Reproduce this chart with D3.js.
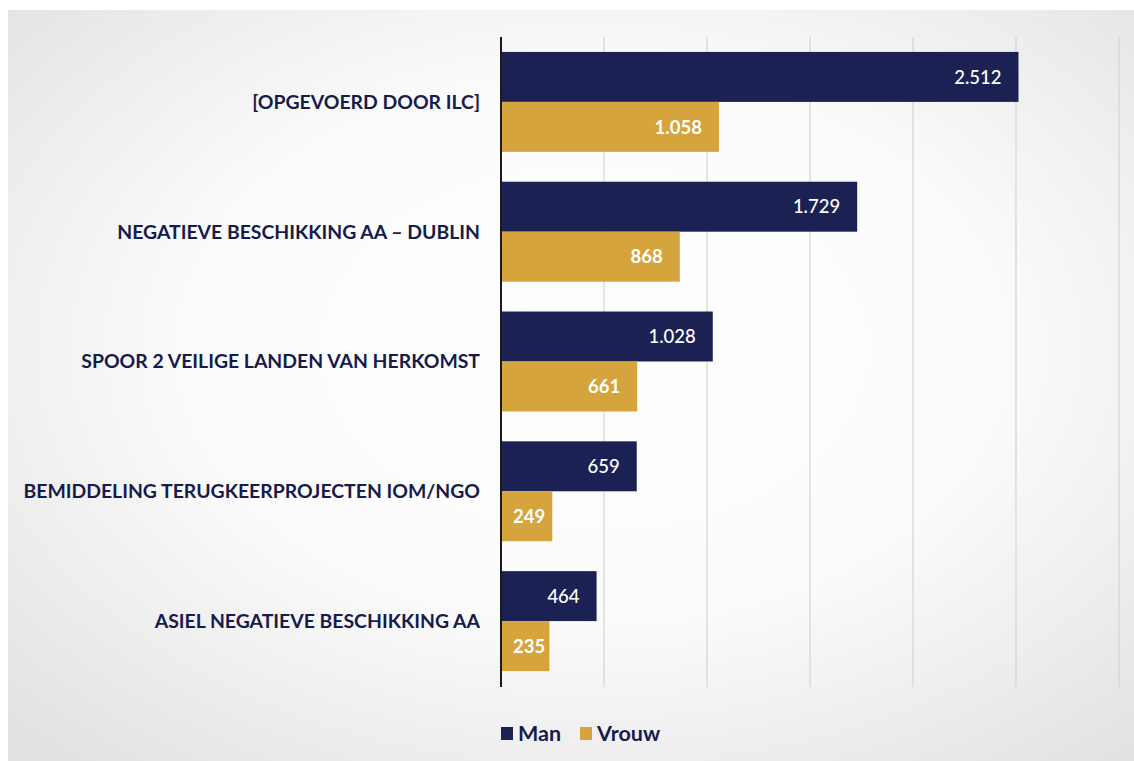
<!DOCTYPE html>
<html>
<head>
<meta charset="utf-8">
<script src="https://cdn.jsdelivr.net/npm/d3@7/dist/d3.min.js"></script>
<style>
  html, body { margin: 0; padding: 0; background: #ffffff; }
  svg { display: block; }
</style>
</head>
<body>
<svg id="chart" width="1134" height="761"></svg>
<script>
// Categories (top to bottom) and the two series
const categories = [
  "[OPGEVOERD DOOR ILC]",
  "NEGATIEVE BESCHIKKING AA \u2013 DUBLIN",
  "SPOOR 2 VEILIGE LANDEN VAN HERKOMST",
  "BEMIDDELING TERUGKEERPROJECTEN IOM/NGO",
  "ASIEL NEGATIEVE BESCHIKKING AA"
];
const seriesNames = ["Man", "Vrouw"];
const manValues = [2512, 1729, 1028, 659, 464];
const vrouwValues = [1058, 868, 661, 249, 235];
const gridTicks = [500, 1000, 1500, 2000, 2500, 3000];

const colors = { Man: "#1c2154", Vrouw: "#d5a43d" };
const textNavy = "#161b4c";
const fmt = v => d3.format(",")(v).replace(/,/g, ".");

const rows = categories.map((c, i) => ({
  category: c,
  values: [
    { series: "Man", value: manValues[i] },
    { series: "Vrouw", value: vrouwValues[i] }
  ]
}));

const svg = d3.select("#chart");

// Soft grey card behind the chart
const defs = svg.append("defs");
const grad = defs.append("radialGradient")
  .attr("id", "cardGrad")
  .attr("cx", "52%").attr("cy", "45%").attr("r", "72%");
grad.append("stop").attr("offset", "0%").attr("stop-color", "#ffffff");
grad.append("stop").attr("offset", "50%").attr("stop-color", "#fbfbfb");
grad.append("stop").attr("offset", "100%").attr("stop-color", "#e2e2e2");
svg.append("rect")
  .attr("x", 8).attr("y", 10)
  .attr("width", 1126).attr("height", 751)
  .attr("fill", "url(#cardGrad)");

const x = d3.scaleLinear().domain([0, 3000]).range([501, 1119]);
const y = d3.scaleBand().domain(categories).range([37, 686])
  .paddingInner(0.23).paddingOuter(0.115);
const ySub = d3.scaleBand().domain(seriesNames).range([0, y.bandwidth()]);

// Vertical gridlines
svg.append("g")
  .selectAll("line")
  .data(gridTicks)
  .join("line")
  .attr("x1", d => x(d)).attr("x2", d => x(d))
  .attr("y1", 37).attr("y2", 687)
  .attr("stroke", "#d4d4d4")
  .attr("stroke-width", 1.2);

// Bars
const groups = svg.append("g")
  .selectAll("g")
  .data(rows)
  .join("g")
  .attr("transform", d => `translate(0,${y(d.category)})`);

groups.selectAll("rect")
  .data(d => d.values)
  .join("rect")
  .attr("x", x(0))
  .attr("y", d => ySub(d.series))
  .attr("width", d => x(d.value) - x(0))
  .attr("height", ySub.bandwidth())
  .attr("fill", d => colors[d.series]);

// Value labels inside the bar ends; short bars keep the label clear of the axis
groups.selectAll("text")
  .data(d => d.values)
  .join("text")
  .attr("y", d => ySub(d.series) + ySub.bandwidth() / 2)
  .attr("dy", "0.36em")
  .attr("text-anchor", "end")
  .attr("fill", "#ffffff")
  .attr("font-family", "Lato, 'Open Sans', sans-serif")
  .attr("font-size", 18.5)
  .attr("font-weight", d => d.series === "Vrouw" ? 700 : 500)
  .text(d => fmt(d.value))
  .attr("x", function(d) {
    const w = this.getComputedTextLength();
    return Math.max(x(d.value) - 17, x(0) + 12 + w);
  });

// Category axis (line only) and labels
svg.append("line")
  .attr("x1", 501).attr("x2", 501)
  .attr("y1", 37).attr("y2", 687)
  .attr("stroke", "#1a1a1a").attr("stroke-width", 2);

svg.append("g")
  .selectAll("text")
  .data(categories)
  .join("text")
  .attr("x", 480)
  .attr("y", d => y(d) + y.bandwidth() / 2)
  .attr("dy", "0.36em")
  .attr("text-anchor", "end")
  .attr("fill", textNavy)
  .attr("font-family", "Lato, 'Open Sans', sans-serif")
  .attr("font-weight", 700)
  .attr("font-size", 19.4)
  .text(d => d);

// Legend
const legend = svg.append("g").attr("transform", "translate(501,727)");
const legendX = { Man: 0, Vrouw: 79 };
const li = legend.selectAll("g")
  .data(seriesNames)
  .join("g")
  .attr("transform", d => `translate(${legendX[d]},0)`);
li.append("rect")
  .attr("width", 12).attr("height", 13)
  .attr("fill", d => colors[d]);
li.append("text")
  .attr("x", 17).attr("y", 6.5)
  .attr("dy", "0.36em")
  .attr("fill", textNavy)
  .attr("font-family", "Lato, 'Open Sans', sans-serif")
  .attr("font-weight", 700)
  .attr("font-size", 21.5)
  .text(d => d);
</script>
</body>
</html>
